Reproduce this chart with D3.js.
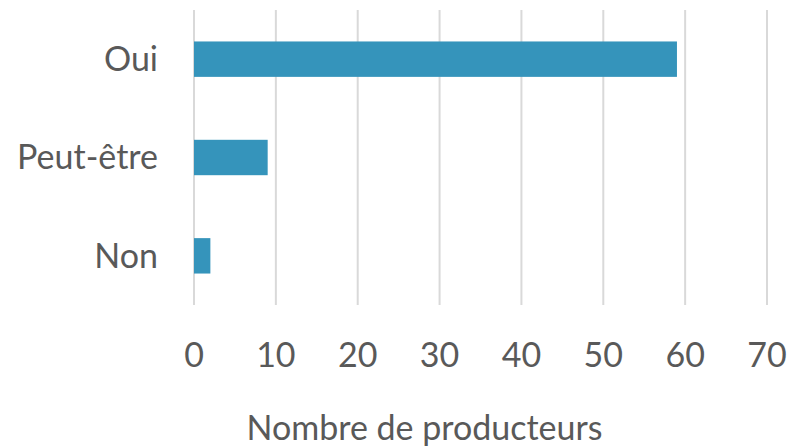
<!DOCTYPE html>
<html>
<head>
<meta charset="utf-8">
<script src="https://cdn.jsdelivr.net/npm/d3@7"></script>
<style>
  body { margin: 0; background: #fff; }
  svg { display: block; font-family: Lato, "Open Sans", sans-serif; }
</style>
</head>
<body>
<svg id="chart"></svg>
<script>
const categories = ['Oui', 'Peut-être', 'Non'];
const values = [59, 9, 2];
const xTicks = [0, 10, 20, 30, 40, 50, 60, 70];
const xTitle = 'Nombre de producteurs';

const width = 793, height = 448;
const margin = {top: 10, right: 26, bottom: 143, left: 194};
const fontSize = 34;

const svg = d3.select('#chart')
  .attr('width', width)
  .attr('height', height);

const x = d3.scaleLinear()
  .domain([0, 70])
  .range([margin.left, width - margin.right]);

const y = d3.scaleBand()
  .domain(categories)
  .range([margin.top, height - margin.bottom])
  .paddingInner(0.64)
  .paddingOuter(0.32);

// gridlines
svg.append('g')
  .selectAll('line')
  .data(xTicks)
  .join('line')
    .attr('x1', d => x(d))
    .attr('x2', d => x(d))
    .attr('y1', margin.top)
    .attr('y2', height - margin.bottom)
    .attr('stroke', '#d9d9d9')
    .attr('stroke-width', 2);

// bars
svg.append('g')
  .selectAll('rect')
  .data(values)
  .join('rect')
    .attr('x', x(0))
    .attr('y', (d, i) => y(categories[i]))
    .attr('width', d => x(d) - x(0))
    .attr('height', y.bandwidth())
    .attr('fill', '#3594bb');

// category labels
svg.append('g')
  .attr('font-size', fontSize)
  .attr('fill', '#595959')
  .attr('text-anchor', 'end')
  .selectAll('text')
  .data(categories)
  .join('text')
    .attr('x', margin.left - 36)
    .attr('y', d => y(d) + y.bandwidth() / 2)
    .attr('dy', '0.35em')
    .text(d => d);

// x tick labels
svg.append('g')
  .attr('font-size', fontSize)
  .attr('fill', '#595959')
  .attr('text-anchor', 'middle')
  .selectAll('text')
  .data(xTicks)
  .join('text')
    .attr('x', d => x(d))
    .attr('y', 355)
    .attr('dy', '0.35em')
    .text(d => d);

// axis title
svg.append('text')
  .attr('x', (x(0) + x(70)) / 2 - 56)
  .attr('y', 428)
  .attr('dy', '0.35em')
  .attr('font-size', fontSize)
  .attr('fill', '#595959')
  .attr('text-anchor', 'middle')
  .text(xTitle);
</script>
</body>
</html>
